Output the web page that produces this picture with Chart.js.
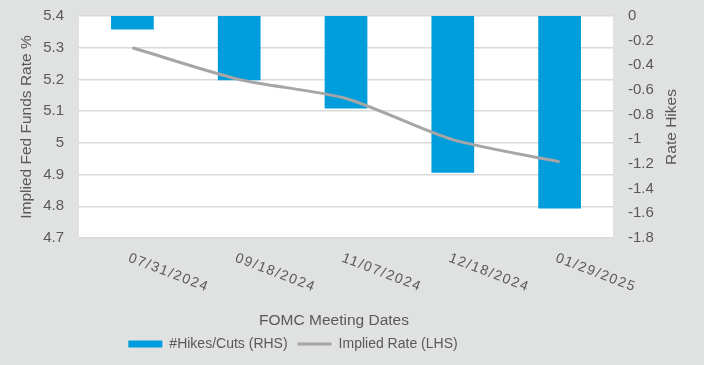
<!DOCTYPE html>
<html>
<head>
<meta charset="utf-8">
<script src="https://cdn.jsdelivr.net/npm/chart.js@4.4.1/dist/chart.umd.min.js"></script>
<style>
html, body { margin: 0; padding: 0; background: #e0e1e1; }
</style>
</head>
<body>
<canvas id="chartFomc" width="704" height="365"></canvas>
<script>
// Fechas de reuniones FOMC
const fechas = ['07/31/2024', '09/18/2024', '11/07/2024', '12/18/2024', '01/29/2025'];
// Subidas/recortes (eje derecho)
const hikesCuts = [-0.11, -0.52, -0.75, -1.27, -1.56];
// Tasa implícita (eje izquierdo)
const impliedRate = [5.30, 5.20, 5.14, 5.01, 4.94];
const ticksIzq = [4.7, 4.8, 4.9, 5.0, 5.1, 5.2, 5.3, 5.4];
const ticksDer = [-1.8, -1.6, -1.4, -1.2, -1.0, -0.8, -0.6, -0.4, -0.2, 0];

const gris = '#595959';
const fuente = '"Liberation Sans", Arial, sans-serif';

// fondo gris y área blanca
const fondo = {
    id: 'fondo',
    beforeDraw(chart) {
        const { ctx, chartArea: a } = chart;
        ctx.save();
        ctx.fillStyle = '#e0e1e1';
        ctx.fillRect(0, 0, chart.width, chart.height);
        ctx.fillStyle = '#ffffff';
        ctx.fillRect(a.left, a.top, a.right - a.left, a.bottom - a.top);
        ctx.restore();
    }
};

// etiquetas inclinadas del eje x, títulos del eje x y derecho
const etiquetas = {
    id: 'etiquetas',
    afterLayout(chart) {
        chart.legend.left -= 59;
        chart.legend.right -= 59;
    },
    afterDraw(chart) {
        const { ctx } = chart;
        const x = chart.scales.x;
        const yR = chart.scales.yR;
        ctx.save();
        ctx.fillStyle = gris;
        ctx.font = '14px ' + fuente;
        ctx.letterSpacing = '1.5px';
        ctx.textAlign = 'left';
        ctx.textBaseline = 'top';
        fechas.forEach((f, i) => {
            ctx.save();
            ctx.translate(x.getPixelForTick(i) - 1, x.top + 13);
            ctx.rotate(21 * Math.PI / 180);
            ctx.fillText(f, 0, 0);
            ctx.restore();
        });
        ctx.letterSpacing = '0px';
        ctx.font = '15.5px ' + fuente;
        ctx.textAlign = 'center';
        ctx.textBaseline = 'middle';
        ctx.fillText('FOMC Meeting Dates', (x.left + x.right) / 2 - 12, x.top + 83);
        ctx.translate(yR.left + 59, (yR.top + yR.bottom) / 2);
        ctx.rotate(-Math.PI / 2);
        ctx.fillText('Rate Hikes', 0, 0);
        ctx.restore();
    }
};

const ctxFomc = document.getElementById('chartFomc').getContext('2d');
new Chart(ctxFomc, {
    type: 'bar',
    data: {
        labels: fechas,
        datasets: [{
            label: '#Hikes/Cuts (RHS)',
            data: hikesCuts,
            backgroundColor: '#009ddc',
            yAxisID: 'yR',
            order: 1,
            pointStyle: 'rect',
            categoryPercentage: 1,
            barPercentage: 0.4
        }, {
            type: 'line',
            label: 'Implied Rate (LHS)',
            data: impliedRate,
            borderColor: '#a6a6a6',
            borderWidth: 3,
            pointRadius: 0,
            pointStyle: 'line',
            pointBorderColor: '#a6a6a6',
            pointBorderWidth: 3,
            tension: 0.25,
            yAxisID: 'y',
            order: 0
        }]
    },
    options: {
        responsive: false,
        animation: false,
        layout: { padding: { left: 10, right: 10, top: 3, bottom: 4 } },
        scales: {
            x: {
                ticks: { display: false },
                grid: { display: false },
                border: { display: false },
                title: {
                    display: true,
                    text: 'FOMC Meeting Dates',
                    color: 'transparent',
                    font: { family: fuente, size: 15 },
                    padding: { top: 63, bottom: 0 }
                }
            },
            y: {
                position: 'left',
                min: 4.7,
                max: 5.4,
                afterBuildTicks: ax => { ax.ticks = ticksIzq.map(v => ({ value: v })); },
                afterFit: ax => { ax.width = 69; ax.paddingTop = 16; },
                ticks: {
                    callback: v => String(+v.toFixed(1)),
                    color: gris,
                    font: { family: fuente, size: 15 },
                    padding: 15
                },
                grid: { color: '#d9d9d9', lineWidth: 1.5, drawTicks: false },
                border: { display: false },
                title: {
                    display: true,
                    text: 'Implied Fed Funds Rate %',
                    color: gris,
                    font: { family: fuente, size: 15.5 },
                    padding: { top: 7, bottom: 0 }
                }
            },
            yR: {
                position: 'right',
                min: -1.8,
                max: 0,
                afterBuildTicks: ax => { ax.ticks = ticksDer.map(v => ({ value: v })); },
                afterFit: ax => { ax.width = 81; ax.paddingTop = 16; },
                ticks: {
                    callback: v => String(+v.toFixed(1)),
                    color: gris,
                    font: { family: fuente, size: 15 },
                    padding: 15
                },
                grid: { display: false, drawTicks: false },
                border: { display: false }
            }
        },
        plugins: {
            legend: {
                position: 'bottom',
                labels: {
                    color: gris,
                    font: { family: fuente, size: 14 },
                    usePointStyle: true,
                    pointStyleWidth: 34,
                    boxWidth: 34,
                    boxHeight: 7,
                    padding: 10,
                    sort: (a, b) => a.datasetIndex - b.datasetIndex
                }
            },
            tooltip: { enabled: false }
        }
    },
    plugins: [fondo, etiquetas]
});
</script>
</body>
</html>
